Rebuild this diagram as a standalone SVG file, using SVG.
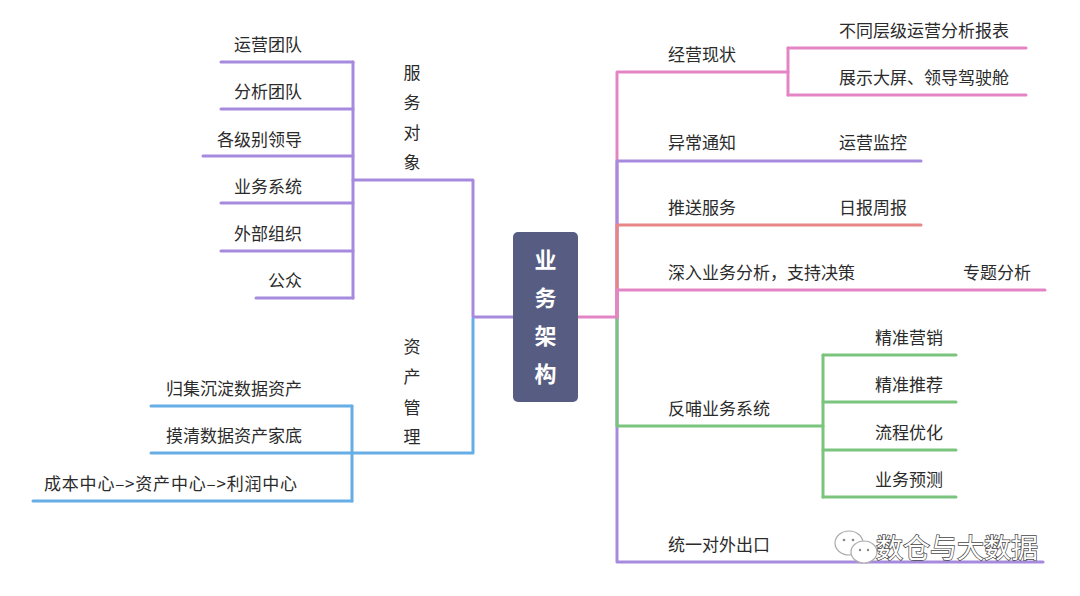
<svg xmlns="http://www.w3.org/2000/svg" width="1080" height="596" viewBox="0 0 1080 596">
<style>
.t{font-family:"Noto Sans CJK SC","Noto Sans",sans-serif;font-size:17px;fill:#2b2b2b}
.e{text-anchor:end}
.v{text-anchor:middle}
.c{font-family:"Noto Sans CJK SC","Noto Sans",sans-serif;font-size:22px;font-weight:bold;fill:#fff;text-anchor:middle}
.l{fill:none;stroke-width:3;stroke-linecap:round;stroke-linejoin:round}
.pu{stroke:#a68ade}
.pk{stroke:#e385c4}
.rd{stroke:#e88686}
.gr{stroke:#7bc47e}
.bl{stroke:#66aee6}
.wm{font-family:"Noto Sans CJK SC","Noto Sans",sans-serif;font-size:27px;fill:#fff;stroke:#444;stroke-width:1.4;paint-order:stroke}
</style>
<rect width="1080" height="596" fill="#fff"/>
<g id="connectors">
  <path class="l pu" d="M513 317 H473 V180 H353"/>
  <path class="l pu" d="M353 62 V298"/>
  <path class="l pu" d="M221 62 H353"/>
  <path class="l pu" d="M221 109 H353"/>
  <path class="l pu" d="M203 156 H353"/>
  <path class="l pu" d="M221 203 H353"/>
  <path class="l pu" d="M221 251 H353"/>
  <path class="l pu" d="M256 298 H353"/>
  <path class="l bl" d="M473 319 V453 H352"/>
  <path class="l bl" d="M352 406 V501"/>
  <path class="l bl" d="M151 406 H352"/>
  <path class="l bl" d="M151 453 H352"/>
  <path class="l bl" d="M33 501 H352"/>
  <path class="l pk" d="M578 317 H617"/>
  <path class="l pu" d="M617 317 V562 H1043"/>
  <path class="l gr" d="M617 317 V426 H823"/>
  <path class="l pk" d="M617 317 V72 H788"/>
  <path class="l pu" d="M617 317 V161 H921"/>
  <path class="l rd" d="M617 317 V225 H921"/>
  <path class="l pk" d="M617 317 V290 H1045"/>
  <path class="l pk" d="M788 48 V95"/>
  <path class="l pk" d="M788 48 H1026"/>
  <path class="l pk" d="M788 95 H1026"/>
  <path class="l gr" d="M823 355 V497"/>
  <path class="l gr" d="M823 355 H956"/>
  <path class="l gr" d="M823 402 H956"/>
  <path class="l gr" d="M823 450 H956"/>
  <path class="l gr" d="M823 497 H956"/>
</g>
<g id="center">
  <rect x="513" y="232" width="65" height="170" rx="5" fill="#575d82"/>
  <text class="c" x="545.5" y="268">业</text>
  <text class="c" x="545.5" y="306">务</text>
  <text class="c" x="545.5" y="344">架</text>
  <text class="c" x="545.5" y="382">构</text>
</g>
<g id="service-objects">
  <text class="t v" x="412" y="79">服</text>
  <text class="t v" x="412" y="109">务</text>
  <text class="t v" x="412" y="139">对</text>
  <text class="t v" x="412" y="169">象</text>
</g>
<g id="n-yunying"><text class="t e" x="302" y="51">运营团队</text></g>
<g id="n-fenxi"><text class="t e" x="302" y="98">分析团队</text></g>
<g id="n-lingdao"><text class="t e" x="302" y="146">各级别领导</text></g>
<g id="n-yewuxitong"><text class="t e" x="302" y="193">业务系统</text></g>
<g id="n-waibu"><text class="t e" x="302" y="240">外部组织</text></g>
<g id="n-gongzhong"><text class="t e" x="302" y="287">公众</text></g>
<g id="asset-management">
  <text class="t v" x="412" y="353">资</text>
  <text class="t v" x="412" y="383">产</text>
  <text class="t v" x="412" y="414">管</text>
  <text class="t v" x="412" y="443">理</text>
</g>
<g id="n-guiji"><text class="t e" x="302" y="395">归集沉淀数据资产</text></g>
<g id="n-moqing"><text class="t e" x="302" y="442">摸清数据资产家底</text></g>
<g id="n-chengben"><text class="t" x="44" y="490" textLength="253" lengthAdjust="spacing">成本中心–&gt;资产中心–&gt;利润中心</text></g>
<g id="n-jingying"><text class="t" x="668" y="61">经营现状</text></g>
<g id="n-baobiao"><text class="t" x="839" y="37">不同层级运营分析报表</text></g>
<g id="n-daping"><text class="t" x="839" y="84">展示大屏、领导驾驶舱</text></g>
<g id="n-yichang"><text class="t" x="668" y="149">异常通知</text></g>
<g id="n-jiankong"><text class="t" x="839" y="149">运营监控</text></g>
<g id="n-tuisong"><text class="t" x="668" y="214">推送服务</text></g>
<g id="n-ribao"><text class="t" x="839" y="214">日报周报</text></g>
<g id="n-shenru"><text class="t" x="668" y="279">深入业务分析，支持决策</text></g>
<g id="n-zhuanti"><text class="t" x="963" y="279">专题分析</text></g>
<g id="n-fanbu"><text class="t" x="668" y="415">反哺业务系统</text></g>
<g id="n-yingxiao"><text class="t" x="875" y="344">精准营销</text></g>
<g id="n-tuijian"><text class="t" x="875" y="391">精准推荐</text></g>
<g id="n-liucheng"><text class="t" x="875" y="439">流程优化</text></g>
<g id="n-yuce"><text class="t" x="875" y="486">业务预测</text></g>
<g id="n-tongyi"><text class="t" x="668" y="551">统一对外出口</text></g>
<g id="watermark">
  <ellipse cx="849" cy="543" rx="14" ry="12" fill="#fff" stroke="#aaa" stroke-width="1.2"/>
  <ellipse cx="864" cy="552" rx="13" ry="11" fill="#fff" stroke="#aaa" stroke-width="1.2"/>
  <circle cx="844" cy="540" r="1.3" fill="#888"/>
  <circle cx="853" cy="540" r="1.3" fill="#888"/>
  <circle cx="860" cy="550" r="1.2" fill="#888"/>
  <circle cx="868" cy="550" r="1.2" fill="#888"/>
  <text class="wm" x="876" y="558">数仓与大数据</text>
</g>
</svg>
